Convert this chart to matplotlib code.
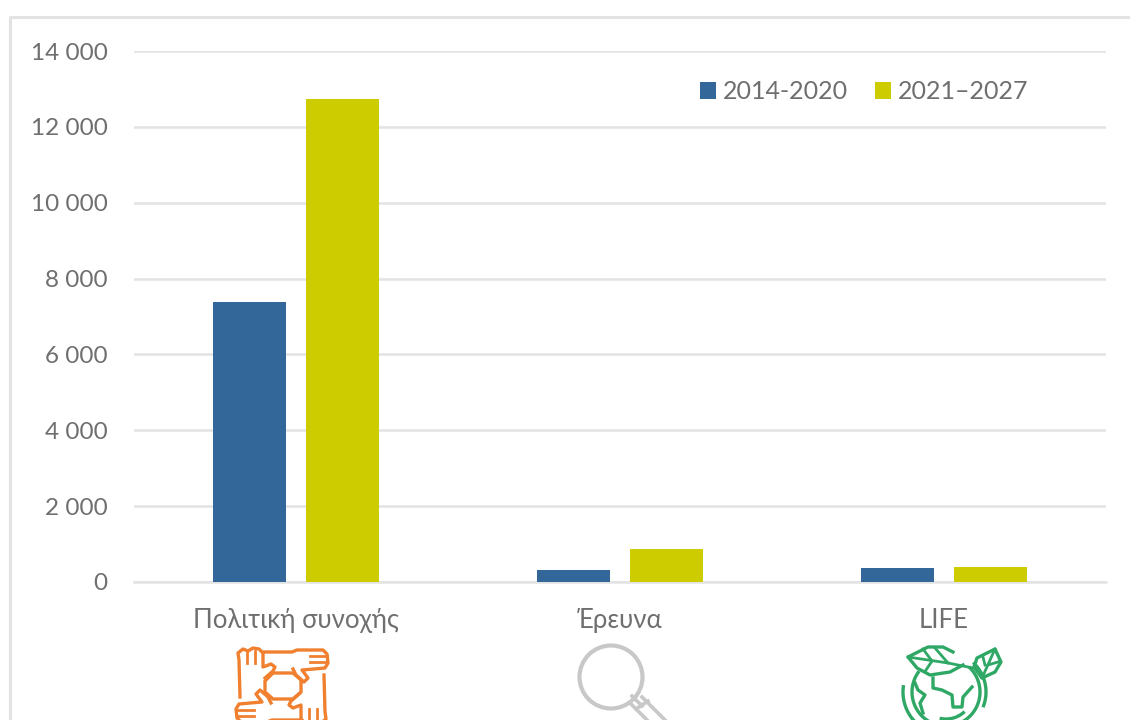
"""Funding by programme, 2014-2020 vs 2021-2027, with category icons."""

import matplotlib
matplotlib.use("Agg")
import matplotlib.pyplot as plt
from matplotlib.patches import Circle, Polygon
import numpy as np

W, H = 1130, 720

categories = ["Πολιτική συνοχής", "Έρευνα", "LIFE"]
period_a = [7380, 320, 360]
period_b = [12730, 865, 400]
series_labels = ["2014-2020", "2021–2027"]
yticks = [0, 2000, 4000, 6000, 8000, 10000, 12000, 14000]

BLUE = "#336699"
YELLOW = "#cccc00"
GRID = "#e3e3e3"
TEXT = "#6f6f6f"
ORANGE = "#f08030"
GREY = "#c8c8c8"
GREEN = "#2fa866"

plt.rcParams["font.family"] = ["Lato", "Open Sans", "DejaVu Sans"]


def px(x0, y0, x1, y1):
    # pixel box (top-left origin) to figure fraction rect
    return [x0 / W, 1 - y1 / H, (x1 - x0) / W, (y1 - y0) / H]


def draw_hands(ov):
    lw = 2.4
    cx, cy = 282, 686
    up_hand = [(240, 697), (239, 660), (238, 653), (243, 649), (248, 651), (253, 648),
               (259, 649), (263, 653), (263, 667), (271, 664), (275, 667), (273, 671),
               (265, 678)]
    right_hand = [(264, 652), (292, 652), (297, 650), (323, 650), (327, 654), (328, 663),
                  (325, 668), (302, 670), (308, 678), (304, 682), (296, 675), (293, 669)]
    finger_lines = [[(247, 652), (247, 663)], [(255, 651), (255, 663)],
                    [(310, 656), (327, 656)], [(310, 662), (327, 662)]]
    # lower hands are the upper ones turned half way round the centre
    for sign in (1, -1):
        for path in [up_hand, right_hand] + finger_lines:
            pts = np.array(path, dtype=float)
            ov.plot(cx + sign * (pts[:, 0] - cx), cy + sign * (pts[:, 1] - cy),
                    color=ORANGE, lw=lw if len(path) > 2 else lw - 0.4,
                    solid_joinstyle="round")
    octagon = [(265, 681), (273, 673), (293, 673), (301, 680),
               (301, 692), (293, 699), (273, 699), (265, 692)]
    ov.add_patch(Polygon(octagon, closed=True, fill=False, ec=ORANGE, lw=lw))


def draw_lens(ov):
    ov.add_patch(Circle((611, 677), 31.5, fill=False, ec=GREY, lw=3))
    ov.plot([630, 660], [703, 733], color=GREY, lw=2.6)
    ov.plot([642, 672], [697, 727], color=GREY, lw=2.6)
    ov.plot([636, 648], [709, 701], color=GREY, lw=2.6)
    ov.plot([632, 642], [696, 706], color=GREY, lw=2.6)


def arc(cx, cy, r, start, stop):
    t = np.radians(np.linspace(start, stop, 60))
    return cx + r * np.cos(t), cy + r * np.sin(t)


def draw_globe(ov):
    lw = 2.4
    cx, cy = 946, 692
    ov.plot(*arc(cx, cy, 34, -45, 215), color=GREEN, lw=lw)
    ov.plot(*arc(cx, cy, 43, 130, 187), color=GREEN, lw=lw)
    ov.plot(*arc(cx, cy, 27, 50, 100), color=GREEN, lw=lw)
    # land outline
    ov.plot([933, 933, 942, 952, 953, 962, 963, 972], [678, 688, 690, 695, 707, 707, 697, 687],
            color=GREEN, lw=lw)
    ov.plot([915, 918, 925, 920, 923], [683, 690, 695, 703, 713], color=GREEN, lw=lw)
    ov.plot(*arc(cx, cy, 40, -45, 20), color=GREEN, lw=lw)
    # big leaf
    ov.plot([953, 943, 928, 908, 917, 930, 950, 963], [652, 647, 647, 657, 668, 675, 672, 665],
            color=GREEN, lw=lw, solid_joinstyle="round")
    ov.plot([908, 948, 973], [657, 663, 668], color=GREEN, lw=2)
    ov.plot([935, 948], [648, 663], color=GREEN, lw=2)
    ov.plot([923, 932], [649, 661], color=GREEN, lw=2)
    ov.plot([932, 926], [661, 670], color=GREEN, lw=2)
    # small leaf
    ov.add_patch(Polygon([(995, 649), (1001, 662), (995, 672), (982, 678), (974, 667),
                          (977, 658)],
                         closed=True, fill=False, ec=GREEN, lw=lw, joinstyle="round"))
    ov.plot([995, 982], [649, 678], color=GREEN, lw=2)
    ov.plot([985, 983], [665, 657], color=GREEN, lw=2)
    ov.plot([988, 998], [665, 662], color=GREEN, lw=2)


def main():
    fig = plt.figure(figsize=(W / 100, H / 100), dpi=100, facecolor="white")

    # overlay in pixel coordinates: frame and icons
    ov = fig.add_axes([0, 0, 1, 1], zorder=0)
    ov.set_xlim(0, W)
    ov.set_ylim(H, 0)
    ov.axis("off")
    ov.plot([9.5, 9.5, W], [H, 16.5, 16.5], color=GRID, lw=2.2)
    draw_hands(ov)
    draw_lens(ov)
    draw_globe(ov)

    ax = fig.add_axes(px(134, 51, 1106, 582), zorder=1)
    ax.patch.set_alpha(0)
    x = np.arange(len(categories))
    bar_w = 0.2253
    offset = 0.1435
    ax.bar(x - offset, period_a, bar_w, color=BLUE, label=series_labels[0], zorder=3)
    ax.bar(x + offset, period_b, bar_w, color=YELLOW, label=series_labels[1], zorder=3)

    ax.set_xlim(-0.5, 2.5)
    ax.set_ylim(0, 14000)
    ax.set_yticks(yticks)
    ax.set_yticklabels([f"{v:,}".replace(",", " ") for v in yticks])
    ax.set_xticks(x)
    ax.set_xticklabels(categories)
    ax.tick_params(axis="y", length=0, pad=19, labelsize=17.5, labelcolor=TEXT)
    ax.tick_params(axis="x", length=0, pad=19, labelsize=18.5, labelcolor=TEXT)
    ax.grid(axis="y", color=GRID, lw=1.8, zorder=0)
    ax.set_axisbelow(True)
    for name in ("top", "right", "left"):
        ax.spines[name].set_visible(False)
    ax.spines["bottom"].set_color(GRID)
    ax.spines["bottom"].set_linewidth(1.8)

    ax.legend(loc="upper left", bbox_to_anchor=(0.582, 0.945), ncol=2, frameon=False,
              fontsize=18, labelcolor=TEXT, handlelength=0.65, handleheight=0.65,
              handletextpad=0.28, columnspacing=1.08, borderaxespad=0, borderpad=0)

    fig.savefig("out.png", dpi=100)
    plt.close(fig)


if __name__ == "__main__":
    main()
